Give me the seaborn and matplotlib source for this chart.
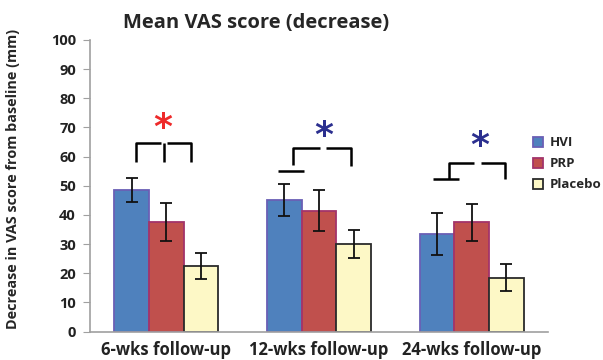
import numpy as np
import pandas as pd
import matplotlib
matplotlib.use('Agg')
import matplotlib.pyplot as plt
import seaborn as sns

# data
timepoints = ['6-wks follow-up', '12-wks follow-up', '24-wks follow-up']
groups = ['HVI', 'PRP', 'Placebo']
hvi_mean = [48.5, 45.0, 33.5]
prp_mean = [37.5, 41.5, 37.5]
placebo_mean = [22.5, 30.0, 18.5]
hvi_err = [4.0, 5.5, 7.2]
prp_err = [6.5, 7.0, 6.3]
placebo_err = [4.6, 4.8, 4.7]

# significance brackets: (group index, star colour)
star_groups = [0, 1, 2]
star_colors = ['#ee2a2a', '#2b2f8f', '#2b2f8f']

colors = {'HVI': '#4f81bd', 'PRP': '#c0504d', 'Placebo': '#fdf8c6'}
edges = {'HVI': '#6a5fb5', 'PRP': '#a3346a', 'Placebo': '#2a2a2a'}

df = pd.DataFrame({
    'time': timepoints * 3,
    'group': [g for g in groups for _ in timepoints],
    'mean': hvi_mean + prp_mean + placebo_mean,
    'err': hvi_err + prp_err + placebo_err,
})

sns.set_style('white')
plt.rcParams['font.family'] = ['Open Sans', 'DejaVu Sans']

fig = plt.figure(figsize=(6.03, 3.6), dpi=100)
ax = fig.add_axes([0.149, 0.079, 0.76, 0.81])

sns.barplot(data=df, x='time', y='mean', hue='group', order=timepoints,
            hue_order=groups, palette=colors, errorbar=None, width=0.68,
            saturation=1, ax=ax, legend=False)

# edges + error bars from the bar patches
bars = [p for p in ax.patches]
for i, g in enumerate(groups):
    sub = df[df['group'] == g].set_index('time').loc[timepoints]
    for j in range(len(timepoints)):
        p = bars[i * len(timepoints) + j]
        p.set_edgecolor(edges[g])
        p.set_linewidth(1.3)
        cx = p.get_x() + p.get_width() / 2
        ax.errorbar(cx, sub['mean'].iloc[j], yerr=sub['err'].iloc[j], color='#111111',
                    lw=1.3, capsize=4, capthick=1.3)

# brackets
bk = dict(color='black', lw=1.8, solid_capstyle='butt')
# 6 wks
ax.plot([-0.20, -0.20, -0.035], [58.2, 64.6, 64.6], **bk)
ax.plot([0.003, 0.164, 0.164], [64.6, 64.6, 58.2], **bk)
ax.plot([-0.013, -0.013], [58.2, 64.6], **bk)
# 12 wks
ax.plot([1 - 0.27, 1 - 0.098], [55.1, 55.1], **bk)
ax.plot([1 - 0.17, 1 - 0.17, 1.007], [57.0, 63.0, 63.0], **bk)
ax.plot([1.046, 1.21, 1.21], [63.0, 63.0, 56.9], **bk)
# 24 wks
ax.plot([2 - 0.255, 2 - 0.085], [52.3, 52.3], **bk)
ax.plot([2 - 0.15, 2 - 0.15, 2.013], [52.3, 57.9, 57.9], **bk)
ax.plot([2.059, 2.216, 2.216], [57.9, 57.9, 52.3], **bk)

star_x = [-0.026, 1.033, 2.052]
star_y = [64.0, 61.1, 57.8]
for gi, c in zip(star_groups, star_colors):
    ax.text(star_x[gi], star_y[gi], '*', color=c, fontsize=26, fontweight='bold',
            ha='center', va='bottom', family='DejaVu Sans')

ax.set_ylim(0, 100)
ax.set_xlim(-0.5, 2.5)
ax.set_yticks(range(0, 101, 10))
ax.set_xticks([0.5, 1.5], minor=True)
ax.tick_params(axis='x', which='major', length=0, pad=7, labelsize=12)
ax.tick_params(axis='x', which='minor', length=4, color='#a0a0a0', direction='out')
ax.tick_params(axis='y', length=5, color='#a0a0a0', direction='out', labelsize=10.5, pad=5)
ax.tick_params(axis='y', which='both', left=True)
for lab in ax.get_xticklabels() + ax.get_yticklabels():
    lab.set_fontweight('bold')
    lab.set_color('#222222')

sns.despine(ax=ax)
for s in ['left', 'bottom']:
    ax.spines[s].set_color('#a0a0a0')
    ax.spines[s].set_linewidth(1.2)

ax.set_xlabel('')
ax.set_ylabel('Decrease in VAS score from baseline (mm)', fontsize=10.4,
              fontweight='bold')
ax.yaxis.set_label_coords(-0.153, 0.523)
fig.text(0.425, 0.937, 'Mean VAS score (decrease)', fontsize=14.5, fontweight='bold',
         ha='center', va='center')

handles = [plt.Rectangle((0, 0), 1, 1, facecolor=colors[g], edgecolor=edges[g], lw=1.3)
           for g in groups]
leg = ax.legend(handles, groups, loc='upper left', bbox_to_anchor=(0.94, 0.71),
                frameon=False, handlelength=0.8, handleheight=0.8, handletextpad=0.5,
                labelspacing=0.6, prop={'weight': 'bold', 'size': 9.5})

fig.savefig('out.png', dpi=100)
